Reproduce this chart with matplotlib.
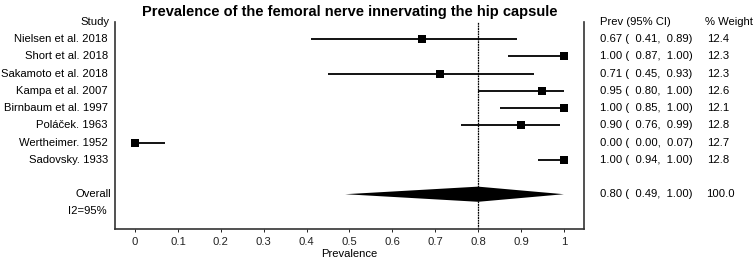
import matplotlib
matplotlib.use("Agg")
import matplotlib.pyplot as plt
from matplotlib.patches import Polygon

plt.rcParams['font.family'] = ['Liberation Sans', 'DejaVu Sans']

studies = ["Nielsen et al. 2018", "Short et al. 2018", "Sakamoto et al. 2018",
           "Kampa et al. 2007", "Birnbaum et al. 1997", "Poláček. 1963",
           "Wertheimer. 1952", "Sadovsky. 1933"]
prev = [0.67, 1.00, 0.71, 0.95, 1.00, 0.90, 0.00, 1.00]
lo = [0.41, 0.87, 0.45, 0.80, 0.85, 0.76, 0.00, 0.94]
hi = [0.89, 1.00, 0.93, 1.00, 1.00, 0.99, 0.07, 1.00]
weight = [12.4, 12.3, 12.3, 12.6, 12.1, 12.8, 12.7, 12.8]

overall = 0.80
overall_lo = 0.49
overall_hi = 1.00
overall_weight = 100.0
i2_label = "I2=95%"

xticks = [0, 0.1, 0.2, 0.3, 0.4, 0.5, 0.6, 0.7, 0.8, 0.9, 1]
xtick_labels = ["0", "0.1", "0.2", "0.3", "0.4", "0.5", "0.6", "0.7", "0.8", "0.9", "1"]

fs = 8.1
fig = plt.figure(figsize=(7.54, 2.61), dpi=100)
ax = fig.add_axes([0.1525, 0.1226, 0.622, 0.7931])

rows = list(range(1, len(studies) + 1))
overall_row = len(studies) + 2

# lignes d'intervalle + carrés
for r, p, a, b in zip(rows, prev, lo, hi):
    ax.plot([a, b], [r, r], color="black", lw=1.3, solid_capstyle="butt")
    ax.plot(p, r, marker="s", color="black", markersize=5.2, markeredgewidth=0)

# losange global
diamond = Polygon([(overall_lo, overall_row), (overall, overall_row - 0.44),
                   (overall_hi, overall_row), (overall, overall_row + 0.44)],
                  closed=True, color="black", lw=0)
ax.add_patch(diamond)

ax.axvline(overall, color="black", lw=0.9, linestyle=(0, (1.5, 0.6)), zorder=0)

ax.set_xlim(-0.047, 1.047)
ax.set_ylim(12.02, 0)
ax.set_yticks([])
ax.set_xticks(xticks)
ax.set_xticklabels(xtick_labels, fontsize=fs)
ax.tick_params(axis="x", length=2, width=0.7, pad=3.5, colors="#222222")
for s in ["left", "right", "bottom"]:
    ax.spines[s].set_linewidth(1.2)
    ax.spines[s].set_color("#333333")
ax.spines["top"].set_visible(False)

ax.set_xlabel("Prevalence", fontsize=fs, labelpad=1.5)
ax.set_title("Prevalence of the femoral nerve innervating the hip capsule",
             fontsize=10.5, fontweight="bold", pad=4.5)

# textes à gauche
tr = ax.get_yaxis_transform()
ax.text(-0.011, 0, "Study", transform=tr, ha="right", va="center", fontsize=fs)
for r, s in zip(rows, studies):
    ax.text(-0.015, r, s, transform=tr, ha="right", va="center", fontsize=fs)
ax.text(-0.008, overall_row, "Overall", transform=tr, ha="right", va="center", fontsize=fs)
ax.text(-0.017, overall_row + 1, i2_label, transform=tr, ha="right", va="center", fontsize=fs)

# colonnes à droite
xc = 1.034
xw = 1.258
ax.text(xc, 0, "Prev (95% CI)", transform=tr, ha="left", va="center", fontsize=fs)
ax.text(xw, 0, "% Weight", transform=tr, ha="left", va="center", fontsize=fs)
for r, p, a, b, w in zip(rows, prev, lo, hi, weight):
    ax.text(xc, r, f"{p:.2f} (  {a:.2f},  {b:.2f})", transform=tr, ha="left", va="center", fontsize=fs)
    ax.text(xw + 0.005, r, f"{w:.1f}", transform=tr, ha="left", va="center", fontsize=fs)
ax.text(xc, overall_row, f"{overall:.2f} (  {overall_lo:.2f},  {overall_hi:.2f})",
        transform=tr, ha="left", va="center", fontsize=fs)
ax.text(xw + 0.002, overall_row, f"{overall_weight:.1f}", transform=tr, ha="left", va="center", fontsize=fs)

fig.savefig("out.png", dpi=100)
